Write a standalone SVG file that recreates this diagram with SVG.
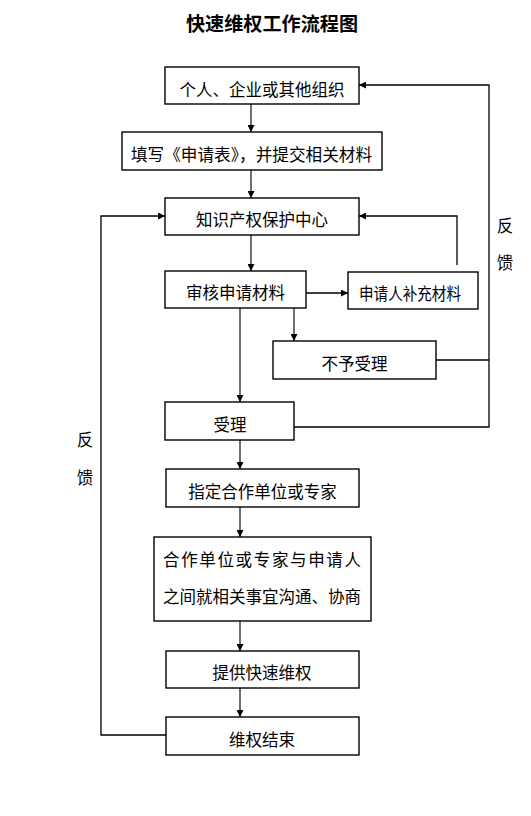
<svg xmlns="http://www.w3.org/2000/svg" width="531" height="816" viewBox="0 0 531 816">
<style>
.box{fill:#fff;stroke:#000;stroke-width:1.4}
.t{font-family:"Noto Sans CJK SC","Noto Sans",sans-serif;font-size:16.5px;fill:#000;text-anchor:middle}
.ttl{font-family:"Noto Sans CJK SC","Noto Sans",sans-serif;font-size:19px;font-weight:bold;fill:#000;text-anchor:middle}
.ln{fill:none;stroke:#000;stroke-width:1.3}
.ar{fill:none;stroke:#333;stroke-width:1.4;marker-end:url(#ah)}
.arb{fill:none;stroke:#000;stroke-width:1.3;marker-end:url(#ah)}
</style>
<defs>
<marker id="ah" viewBox="0 0 10 10" refX="10" refY="5" markerWidth="7" markerHeight="7" markerUnits="userSpaceOnUse" orient="auto">
<path d="M0,0 L10,5 L0,10 Z" fill="#000"/>
</marker>
</defs>
<rect width="531" height="816" fill="#fff"/>
<text class="ttl" x="272" y="31" textLength="172" lengthAdjust="spacingAndGlyphs">快速维权工作流程图</text>

<g id="connectors">
<path class="ar" d="M251,104 V132"/>
<path class="ar" d="M251,170 V198"/>
<path class="ar" d="M251,235 V271"/>
<path class="arb" d="M306,293 H348"/>
<path class="ar" d="M294,306 V341"/>
<path class="ar" d="M240,307 V402"/>
<path class="ar" d="M240,440 V469"/>
<path class="ar" d="M240,507 V537"/>
<path class="ar" d="M240,621 V651"/>
<path class="ar" d="M240,688 V717"/>
<path class="arb" d="M457,265 V216 H359"/>
<path class="ln" d="M436,360 H489"/>
<path class="arb" d="M294,427 H489 V85 H359"/>
<path class="arb" d="M166,735 H101 V216 H165"/>
</g>

<g id="n1"><rect class="box" x="165" y="67" width="194" height="37"/><text class="t" x="262" y="95.5">个人、企业或其他组织</text></g>
<g id="n2"><rect class="box" x="122" y="132" width="260" height="38"/><text class="t" x="251.5" y="161" textLength="241" lengthAdjust="spacingAndGlyphs">填写《申请表》，并提交相关材料</text></g>
<g id="n3"><rect class="box" x="165" y="198" width="194" height="37"/><text class="t" x="262" y="226">知识产权保护中心</text></g>
<g id="n4"><rect class="box" x="165" y="271" width="141" height="37"/><text class="t" x="235.5" y="299">审核申请材料</text></g>
<g id="n5"><rect class="box" x="348" y="272" width="130" height="37"/><text class="t" x="410" y="300" font-size="15" textLength="102" lengthAdjust="spacingAndGlyphs">申请人补充材料</text></g>
<g id="n6"><rect class="box" x="273" y="341" width="163" height="38"/><text class="t" x="354.5" y="370">不予受理</text></g>
<g id="n7"><rect class="box" x="165" y="402" width="129" height="38"/><text class="t" x="230" y="431">受理</text></g>
<g id="n8"><rect class="box" x="166" y="469" width="193" height="38"/><text class="t" x="262.5" y="498">指定合作单位或专家</text></g>
<g id="n9"><rect class="box" x="154" y="537" width="217" height="84"/><text class="t" x="262" y="566" textLength="198" lengthAdjust="spacing">合作单位或专家与申请人</text><text class="t" x="262" y="603" textLength="198" lengthAdjust="spacing">之间就相关事宜沟通、协商</text></g>
<g id="n10"><rect class="box" x="166" y="651" width="193" height="37"/><text class="t" x="262" y="679">提供快速维权</text></g>
<g id="n11"><rect class="box" x="166" y="717" width="193" height="38"/><text class="t" x="262" y="746">维权结束</text></g>

<g id="labels">
<text class="t" x="505" y="232">反</text>
<text class="t" x="505" y="269">馈</text>
<text class="t" x="85" y="446">反</text>
<text class="t" x="85" y="484">馈</text>
</g>
</svg>
